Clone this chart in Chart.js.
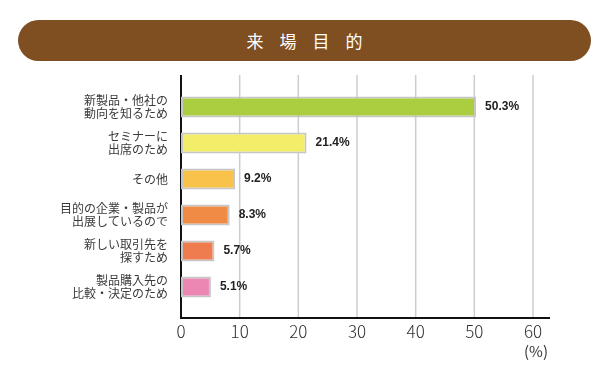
<!DOCTYPE html>
<html lang="ja">
<head>
<meta charset="utf-8">
<title>来場目的</title>
<script src="https://cdn.jsdelivr.net/npm/chart.js@4.4.1/dist/chart.umd.min.js"></script>
<style>
body { margin: 0; background: #fff; }
#wrap { position: relative; width: 600px; height: 372px; }
#title {
    position: absolute; left: 18px; top: 20px; width: 573px; height: 41px;
    border-radius: 21px; background: #7f4f22; color: #fff;
    font: 17px "Noto Sans CJK JP", sans-serif; line-height: 41px;
    text-align: center; letter-spacing: 16px; text-indent: 16px;
}
canvas { position: absolute; left: 0; top: 0; }
</style>
</head>
<body>
<div id="wrap">
    <canvas id="chart" width="600" height="372"></canvas>
    <div id="title">来場目的</div>
</div>
<script>
const categories = [
    ['新製品・他社の', '動向を知るため'],
    ['セミナーに', '出席のため'],
    ['その他'],
    ['目的の企業・製品が', '出展しているので'],
    ['新しい取引先を', '探すため'],
    ['製品購入先の', '比較・決定のため']
];
const values = [50.3, 21.4, 9.2, 8.3, 5.7, 5.1];
const barColors = ['#abce40', '#f2ee6a', '#f9c24b', '#f08b45', '#ee7c4e', '#ec87b4'];
const xMin = 0;
const xMax = 60;
const xStep = 10;
const unitLabel = '(%)';

// axis lines + grid lines reaching a bit past the plot area, like the original
const frame = {
    id: 'frame',
    beforeDatasetsDraw(chart) {
        const ctx = chart.ctx;
        const a = chart.chartArea;
        const x = chart.scales.x;
        const top = a.top - 14;
        const bottom = a.bottom + 13;
        ctx.save();
        ctx.strokeStyle = '#cdcdcd';
        ctx.lineWidth = 1.5;
        x.ticks.forEach(t => {
            if (t.value === xMin) return;
            const px = x.getPixelForValue(t.value);
            ctx.beginPath();
            ctx.moveTo(px, top);
            ctx.lineTo(px, bottom);
            ctx.stroke();
        });
        ctx.strokeStyle = '#111';
        ctx.lineWidth = 2;
        ctx.beginPath();
        ctx.moveTo(a.left, top);
        ctx.lineTo(a.left, bottom);
        ctx.moveTo(a.left - 1, bottom);
        ctx.lineTo(a.right + 17, bottom);
        ctx.stroke();
        ctx.restore();
    },
    afterDatasetsDraw(chart) {
        const ctx = chart.ctx;
        const meta = chart.getDatasetMeta(0);
        ctx.save();
        ctx.fillStyle = '#222';
        ctx.font = 'bold 12px "Liberation Sans", Arial, sans-serif';
        ctx.textBaseline = 'middle';
        ctx.textAlign = 'left';
        meta.data.forEach((bar, i) => {
            ctx.fillText(values[i].toFixed(1) + '%', bar.x + 9, bar.y);
        });
        const x = chart.scales.x;
        ctx.fillStyle = '#333';
        ctx.font = '15px "Noto Sans CJK JP", sans-serif';
        ctx.textAlign = 'center';
        ctx.fillText(unitLabel, x.getPixelForValue(xMax) + 3, chart.chartArea.bottom + 46);
        ctx.restore();
    }
};

new Chart(document.getElementById('chart'), {
    type: 'bar',
    data: {
        labels: categories,
        datasets: [{
            data: values,
            backgroundColor: barColors,
            borderColor: '#c6c6c6',
            borderWidth: 2,
            borderSkipped: false,
            barPercentage: 0.58,
            categoryPercentage: 1
        }]
    },
    options: {
        indexAxis: 'y',
        responsive: false,
        animation: false,
        layout: { padding: { top: 89, right: 67, left: 0, bottom: 0 } },
        plugins: { legend: { display: false }, tooltip: { enabled: false } },
        scales: {
            x: {
                min: xMin,
                max: xMax,
                border: { display: false },
                grid: { display: false },
                ticks: {
                    stepSize: xStep,
                    padding: 8,
                    color: '#333',
                    font: { family: '"Noto Sans CJK JP", sans-serif', size: 17, weight: 300 }
                },
                afterFit(s) { s.height = 67; }
            },
            y: {
                border: { display: false },
                grid: { display: false },
                ticks: {
                    padding: 5,
                    color: '#3a3a3a',
                    font: { family: '"Noto Sans CJK JP", sans-serif', size: 12, lineHeight: 1.1 }
                },
                afterFit(s) { s.width = 181; }
            }
        }
    },
    plugins: [frame]
});
</script>
</body>
</html>
